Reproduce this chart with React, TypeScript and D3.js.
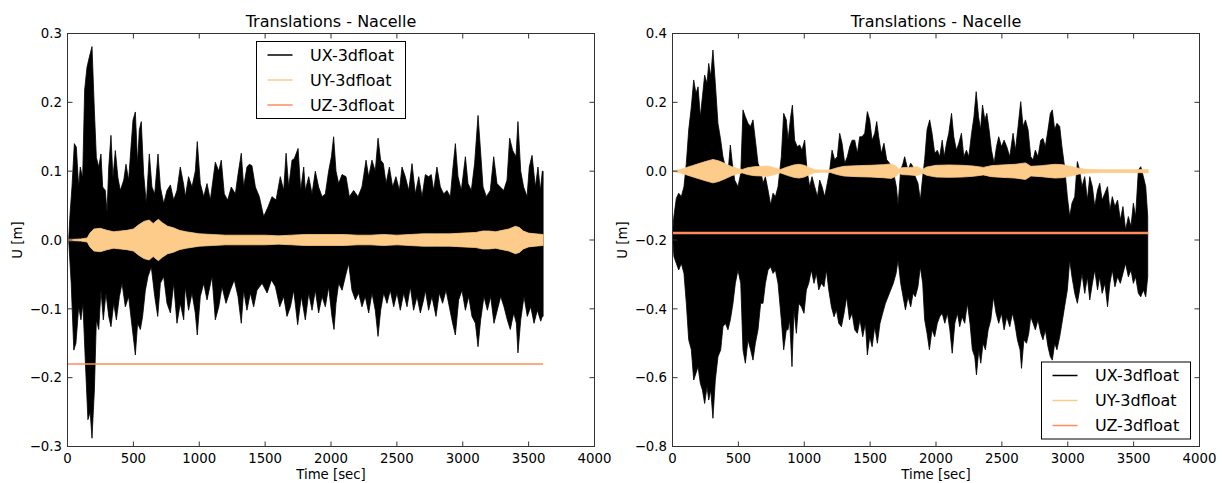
import React from 'react';
import * as d3 from 'd3';

// ---------- shared ----------
const xTicks = [0, 500, 1000, 1500, 2000, 2500, 3000, 3500, 4000];
const leftYTicks = [-0.3, -0.2, -0.1, 0.0, 0.1, 0.2, 0.3];
const rightYTicks = [-0.8, -0.6, -0.4, -0.2, 0.0, 0.2, 0.4];
const seriesNames = ['UX-3dfloat', 'UY-3dfloat', 'UZ-3dfloat'];
const seriesColors = ['#000000', '#fdcc8a', '#fc8d59'];
const chartTitle = 'Translations - Nacelle';
const xLabel = 'Time [sec]';
const yLabel = 'U [m]';

// ---------- left panel (time [s], value [m]) ----------
const leftUxTop: [number, number][] = [
  [0, 0], [9, 0.0], [20, 0.04], [34, 0.077], [52, 0.14], [67, 0.135], [85, 0.077], [97, 0.106], [115, 0.09],
  [130, 0.218], [148, 0.251], [166, 0.266], [186, 0.281], [204, 0.188], [219, 0.12], [237, 0.106], [254, 0.125],
  [267, 0.077], [287, 0.072], [300, 0.04], [313, 0.106], [330, 0.152], [345, 0.09], [363, 0.13], [383, 0.09],
  [401, 0.072], [427, 0.087], [444, 0.11], [464, 0.087], [482, 0.135], [497, 0.174], [515, 0.186], [532, 0.11],
  [545, 0.16], [560, 0.172], [578, 0.096], [598, 0.053], [621, 0.125], [641, 0.077], [662, 0.067], [687, 0.125],
  [705, 0.077], [730, 0.053], [755, 0.072], [781, 0.08], [806, 0.058], [831, 0.072], [856, 0.106], [882, 0.08],
  [894, 0.063], [919, 0.092], [945, 0.077], [970, 0.1], [985, 0.143], [1008, 0.082], [1034, 0.063], [1059, 0.082],
  [1084, 0.058], [1122, 0.113], [1148, 0.1], [1167, 0.116], [1190, 0.067], [1216, 0.058], [1243, 0.077],
  [1274, 0.067], [1294, 0.095], [1319, 0.126], [1337, 0.077], [1362, 0.106], [1380, 0.11], [1400, 0.108],
  [1426, 0.077], [1456, 0.063], [1489, 0.034], [1522, 0.048], [1552, 0.063], [1583, 0.058], [1615, 0.092],
  [1641, 0.072], [1659, 0.126], [1679, 0.077], [1704, 0.116], [1721, 0.118], [1750, 0.133], [1770, 0.072],
  [1793, 0.106], [1805, 0.072], [1831, 0.092], [1856, 0.067], [1881, 0.1], [1906, 0.077], [1932, 0.063],
  [1957, 0.067], [1982, 0.1], [2003, 0.121], [2020, 0.15], [2038, 0.1], [2058, 0.082], [2084, 0.095],
  [2114, 0.092], [2139, 0.063], [2172, 0.072], [2205, 0.063], [2235, 0.077], [2266, 0.116], [2286, 0.092],
  [2311, 0.116], [2336, 0.1], [2357, 0.148], [2377, 0.116], [2397, 0.111], [2418, 0.082], [2443, 0.106],
  [2468, 0.077], [2493, 0.092], [2519, 0.072], [2539, 0.106], [2564, 0.092], [2590, 0.072], [2615, 0.111],
  [2640, 0.067], [2666, 0.092], [2691, 0.063], [2716, 0.095], [2741, 0.092], [2761, 0.095], [2779, 0.072],
  [2804, 0.106], [2830, 0.077], [2855, 0.067], [2880, 0.072], [2906, 0.063], [2923, 0.1], [2944, 0.14],
  [2964, 0.092], [2989, 0.072], [3020, 0.121], [3040, 0.082], [3065, 0.072], [3090, 0.111], [3116, 0.181],
  [3133, 0.135], [3154, 0.077], [3179, 0.063], [3209, 0.072], [3235, 0.121], [3260, 0.082], [3285, 0.077],
  [3311, 0.072], [3336, 0.087], [3356, 0.148], [3379, 0.13], [3404, 0.121], [3419, 0.172], [3440, 0.1],
  [3462, 0.077], [3488, 0.063], [3505, 0.106], [3526, 0.123], [3551, 0.077], [3571, 0.106], [3589, 0.072],
  [3604, 0.1], [3610, 0.1],
];
const leftUxBottom: [number, number][] = [
  [0, 0], [9, 0.0], [28, -0.063], [48, -0.16], [64, -0.15], [85, -0.097], [102, -0.116], [117, -0.092],
  [136, -0.179], [155, -0.261], [172, -0.25], [186, -0.288], [204, -0.218], [219, -0.116], [237, -0.13],
  [254, -0.073], [272, -0.116], [292, -0.077], [313, -0.111], [330, -0.126], [351, -0.092], [371, -0.116],
  [394, -0.082], [414, -0.063], [439, -0.097], [464, -0.082], [484, -0.116], [505, -0.15], [515, -0.167],
  [532, -0.121], [553, -0.13], [570, -0.111], [591, -0.073], [611, -0.053], [636, -0.039], [662, -0.082],
  [685, -0.111], [705, -0.063], [730, -0.053], [755, -0.092], [781, -0.106], [806, -0.063], [831, -0.121],
  [856, -0.092], [882, -0.116], [894, -0.068], [919, -0.102], [945, -0.077], [970, -0.106], [985, -0.138],
  [1008, -0.082], [1034, -0.063], [1059, -0.087], [1097, -0.053], [1122, -0.116], [1148, -0.097],
  [1173, -0.068], [1203, -0.092], [1236, -0.073], [1266, -0.058], [1294, -0.082], [1319, -0.121],
  [1337, -0.073], [1362, -0.102], [1388, -0.077], [1413, -0.097], [1438, -0.073], [1477, -0.063],
  [1515, -0.077], [1548, -0.058], [1578, -0.068], [1611, -0.097], [1641, -0.082], [1666, -0.111],
  [1692, -0.097], [1717, -0.073], [1747, -0.123], [1775, -0.082], [1805, -0.116], [1831, -0.077],
  [1856, -0.102], [1881, -0.073], [1906, -0.106], [1932, -0.082], [1957, -0.097], [1982, -0.068],
  [2007, -0.111], [2023, -0.13], [2038, -0.092], [2058, -0.063], [2084, -0.073], [2109, -0.053],
  [2134, -0.034], [2159, -0.073], [2185, -0.087], [2210, -0.077], [2235, -0.097], [2260, -0.082],
  [2286, -0.106], [2311, -0.077], [2336, -0.102], [2357, -0.14], [2377, -0.102], [2400, -0.077],
  [2425, -0.092], [2450, -0.073], [2476, -0.097], [2501, -0.077], [2526, -0.102], [2552, -0.077],
  [2577, -0.097], [2602, -0.068], [2627, -0.102], [2653, -0.082], [2678, -0.106], [2703, -0.087],
  [2716, -0.073], [2741, -0.102], [2766, -0.082], [2797, -0.111], [2822, -0.077], [2847, -0.092],
  [2873, -0.073], [2898, -0.097], [2923, -0.121], [2944, -0.138], [2969, -0.087], [2994, -0.073],
  [3020, -0.102], [3045, -0.082], [3070, -0.111], [3096, -0.121], [3116, -0.155], [3136, -0.116],
  [3161, -0.082], [3187, -0.102], [3212, -0.082], [3237, -0.121], [3262, -0.102], [3288, -0.082],
  [3313, -0.097], [3338, -0.116], [3361, -0.13], [3387, -0.106], [3407, -0.121], [3419, -0.164],
  [3440, -0.116], [3465, -0.082], [3490, -0.111], [3516, -0.097], [3541, -0.121], [3566, -0.102],
  [3592, -0.118], [3604, -0.111], [3610, -0.111],
];
// UY: half-width of the band around zero
const leftUyAmp: [number, number][] = [
  [0, 0.001], [50, 0.001], [100, 0.0015], [150, 0.003], [170, 0.01], [200, 0.016], [250, 0.017], [300, 0.014],
  [350, 0.012], [400, 0.013], [450, 0.014], [500, 0.016], [540, 0.022], [580, 0.027], [620, 0.029], [650, 0.024],
  [690, 0.03], [720, 0.025], [760, 0.02], [800, 0.018], [850, 0.014], [900, 0.012], [1000, 0.009], [1100, 0.008],
  [1200, 0.007], [1300, 0.007], [1400, 0.007], [1500, 0.007], [1600, 0.006], [1700, 0.007], [1800, 0.008],
  [1900, 0.008], [2000, 0.008], [2100, 0.008], [2200, 0.007], [2300, 0.007], [2400, 0.008], [2500, 0.007],
  [2600, 0.008], [2700, 0.009], [2800, 0.009], [2900, 0.009], [3000, 0.01], [3100, 0.011], [3150, 0.013],
  [3200, 0.013], [3250, 0.012], [3300, 0.014], [3350, 0.016], [3400, 0.02], [3430, 0.018], [3460, 0.013],
  [3500, 0.01], [3550, 0.009], [3610, 0.008],
];
const leftUz: [number, number][] = [[0, -0.18], [900, -0.18], [1800, -0.18], [2700, -0.18], [3610, -0.18]];

// ---------- right panel ----------
const rightUxTop: [number, number][] = [
  [0, -0.18], [11, -0.13], [29, -0.079], [47, -0.064], [67, -0.074], [87, -0.045], [105, 0.023], [123, 0.12],
  [143, 0.187], [161, 0.265], [178, 0.226], [194, 0.245], [211, 0.158], [227, 0.216], [244, 0.279], [262, 0.255],
  [275, 0.313], [290, 0.275], [307, 0.352], [325, 0.255], [345, 0.139], [366, 0.09], [383, 0.042], [401, 0.013],
  [421, -0.006], [439, 0.076], [454, 0.023], [472, -0.026], [497, -0.045], [518, -0.006], [535, 0.178],
  [553, 0.158], [573, 0.139], [593, 0.13], [611, 0.149], [629, 0.09], [649, 0.023], [669, 0.003], [687, -0.035],
  [705, -0.016], [725, -0.055], [745, -0.098], [763, -0.064], [781, -0.074], [801, -0.045], [826, 0.042],
  [844, 0.168], [864, 0.149], [877, 0.09], [897, 0.158], [910, 0.192], [927, 0.09], [947, 0.071], [965, 0.076],
  [983, 0.061], [1003, 0.09], [1021, 0.003], [1041, -0.045], [1059, -0.016], [1079, -0.045], [1100, -0.074],
  [1117, -0.026], [1135, -0.045], [1155, -0.074], [1175, -0.035], [1193, 0.003], [1211, 0.061], [1231, 0.033],
  [1251, 0.042], [1269, 0.11], [1287, 0.081], [1307, 0.023], [1327, 0.042], [1345, 0.071], [1363, 0.09],
  [1383, 0.09], [1403, 0.052], [1421, 0.1], [1439, 0.1], [1459, 0.11], [1479, 0.173], [1497, 0.149], [1515, 0.09],
  [1535, 0.11], [1550, 0.144], [1565, 0.1], [1585, 0.052], [1605, 0.081], [1626, 0.033], [1648, 0.023],
  [1674, 0.003], [1699, -0.045], [1712, -0.098], [1732, 0.003], [1750, 0.023], [1762, 0.042], [1787, 0.003],
  [1808, 0.023], [1826, 0.013], [1843, -0.016], [1863, -0.035], [1881, -0.084], [1899, -0.016], [1914, 0.033],
  [1932, 0.12], [1952, 0.149], [1970, 0.11], [1990, 0.052], [2010, 0.061], [2028, 0.042], [2047, 0.09],
  [2062, 0.042], [2080, 0.081], [2097, 0.11], [2118, 0.168], [2135, 0.1], [2155, 0.061], [2173, 0.081],
  [2193, 0.11], [2211, 0.042], [2231, 0.061], [2249, 0.042], [2270, 0.11], [2288, 0.158], [2305, 0.231],
  [2323, 0.158], [2338, 0.12], [2353, 0.192], [2371, 0.149], [2386, 0.168], [2403, 0.12], [2421, 0.061],
  [2441, 0.023], [2459, 0.071], [2476, 0.1], [2497, 0.071], [2517, 0.09], [2537, 0.071], [2560, 0.042],
  [2585, 0.11], [2603, 0.061], [2623, 0.13], [2643, 0.202], [2661, 0.13], [2679, 0.149], [2699, 0.12],
  [2719, 0.042], [2737, 0.033], [2754, 0.061], [2774, 0.042], [2795, 0.09], [2812, 0.095], [2830, 0.071],
  [2850, 0.12], [2868, 0.168], [2883, 0.178], [2901, 0.12], [2918, 0.139], [2939, 0.13], [2956, 0.071],
  [2976, 0.013], [2997, -0.074], [3015, -0.132], [3032, -0.093], [3053, -0.074], [3073, 0.028], [3090, 0.003],
  [3108, -0.045], [3129, -0.016], [3149, -0.084], [3167, -0.016], [3187, -0.045], [3205, -0.103], [3226, -0.055],
  [3243, -0.035], [3261, -0.084], [3282, -0.064], [3302, -0.045], [3320, -0.113], [3338, -0.074], [3358, -0.103],
  [3378, -0.084], [3399, -0.142], [3419, -0.103], [3439, -0.171], [3460, -0.132], [3480, -0.161], [3498, -0.093],
  [3515, -0.132], [3536, 0.003], [3554, 0.013], [3574, -0.016], [3592, -0.045], [3607, -0.132],
];
const rightUxBottom: [number, number][] = [
  [0, -0.19], [11, -0.248], [29, -0.268], [47, -0.287], [67, -0.268], [87, -0.297], [105, -0.384], [123, -0.49],
  [143, -0.519], [161, -0.607], [178, -0.587], [194, -0.568], [211, -0.616], [227, -0.636], [244, -0.675],
  [262, -0.626], [275, -0.665], [290, -0.636], [307, -0.718], [325, -0.607], [345, -0.539], [366, -0.519],
  [383, -0.452], [401, -0.442], [421, -0.461], [439, -0.432], [459, -0.384], [477, -0.326], [497, -0.287],
  [518, -0.326], [535, -0.519], [553, -0.558], [573, -0.49], [593, -0.519], [611, -0.549], [629, -0.5],
  [649, -0.461], [669, -0.384], [687, -0.384], [705, -0.326], [725, -0.287], [745, -0.278], [763, -0.297],
  [781, -0.287], [801, -0.326], [826, -0.432], [844, -0.519], [864, -0.461], [877, -0.461], [889, -0.432],
  [907, -0.568], [922, -0.403], [940, -0.471], [958, -0.384], [978, -0.394], [998, -0.413], [1016, -0.345],
  [1034, -0.326], [1054, -0.287], [1074, -0.326], [1092, -0.297], [1110, -0.345], [1130, -0.326], [1150, -0.336],
  [1168, -0.287], [1186, -0.345], [1206, -0.394], [1226, -0.423], [1244, -0.403], [1262, -0.442], [1282, -0.452],
  [1302, -0.413], [1322, -0.365], [1343, -0.432], [1363, -0.413], [1383, -0.461], [1403, -0.471], [1423, -0.432],
  [1444, -0.481], [1464, -0.442], [1479, -0.534], [1497, -0.481], [1515, -0.51], [1535, -0.452], [1555, -0.5],
  [1575, -0.442], [1595, -0.413], [1616, -0.384], [1636, -0.365], [1656, -0.345], [1676, -0.326], [1697, -0.297],
  [1712, -0.258], [1732, -0.326], [1750, -0.365], [1768, -0.403], [1788, -0.365], [1808, -0.394], [1826, -0.355],
  [1843, -0.365], [1863, -0.336], [1881, -0.278], [1899, -0.326], [1914, -0.432], [1932, -0.471], [1950, -0.519],
  [1970, -0.461], [1990, -0.481], [2010, -0.442], [2028, -0.423], [2047, -0.413], [2067, -0.442], [2087, -0.413],
  [2105, -0.461], [2123, -0.529], [2143, -0.442], [2163, -0.413], [2180, -0.452], [2198, -0.423], [2218, -0.442],
  [2238, -0.384], [2258, -0.442], [2276, -0.519], [2294, -0.539], [2307, -0.592], [2325, -0.519], [2340, -0.558],
  [2357, -0.5], [2375, -0.519], [2396, -0.461], [2416, -0.432], [2436, -0.365], [2456, -0.413], [2476, -0.442],
  [2497, -0.413], [2517, -0.461], [2537, -0.423], [2560, -0.452], [2580, -0.413], [2598, -0.442], [2618, -0.49],
  [2638, -0.519], [2649, -0.573], [2667, -0.49], [2687, -0.5], [2704, -0.471], [2719, -0.423], [2737, -0.442],
  [2754, -0.461], [2774, -0.432], [2795, -0.471], [2812, -0.49], [2830, -0.461], [2850, -0.51], [2868, -0.539],
  [2883, -0.549], [2901, -0.5], [2918, -0.519], [2939, -0.481], [2956, -0.442], [2976, -0.394], [2997, -0.345],
  [3015, -0.258], [3032, -0.307], [3053, -0.355], [3073, -0.384], [3090, -0.345], [3108, -0.297], [3129, -0.355],
  [3149, -0.307], [3167, -0.374], [3187, -0.326], [3205, -0.287], [3226, -0.345], [3243, -0.307], [3261, -0.355],
  [3282, -0.326], [3302, -0.394], [3320, -0.326], [3338, -0.287], [3358, -0.336], [3378, -0.307], [3399, -0.326],
  [3419, -0.297], [3439, -0.268], [3460, -0.307], [3480, -0.287], [3498, -0.326], [3515, -0.307], [3536, -0.355],
  [3554, -0.365], [3574, -0.345], [3592, -0.365], [3607, -0.307],
];
const rightUyAmp: [number, number][] = [
  [0, 0.001], [50, 0.004], [100, 0.01], [150, 0.016], [200, 0.022], [250, 0.028], [307, 0.034], [350, 0.03],
  [400, 0.022], [450, 0.013], [500, 0.007], [530, 0.005], [570, 0.01], [620, 0.013], [680, 0.014], [725, 0.015],
  [770, 0.01], [820, 0.005], [870, 0.012], [920, 0.018], [960, 0.02], [1000, 0.017], [1040, 0.01], [1080, 0.004],
  [1150, 0.003], [1200, 0.004], [1250, 0.01], [1300, 0.014], [1400, 0.016], [1500, 0.017], [1600, 0.019],
  [1660, 0.021], [1700, 0.014], [1715, 0.005], [1740, 0.01], [1800, 0.011], [1860, 0.013], [1895, 0.005],
  [1930, 0.012], [2000, 0.017], [2100, 0.018], [2200, 0.017], [2280, 0.015], [2360, 0.011], [2420, 0.016],
  [2500, 0.018], [2600, 0.02], [2680, 0.024], [2720, 0.014], [2800, 0.016], [2900, 0.02], [2960, 0.019],
  [3020, 0.014], [3090, 0.008], [3150, 0.005], [3250, 0.004], [3400, 0.004], [3500, 0.004], [3610, 0.005],
];
const rightUz: [number, number][] = [[0, -0.18], [900, -0.18], [1800, -0.18], [2700, -0.18], [3610, -0.18]];

const FONT = 'DejaVu Sans, sans-serif';

type PanelProps = {
  id: string;
  x0: number; x1: number; y0: number; y1: number;
  yDomain: [number, number];
  yTicks: number[];
  uxTop: [number, number][];
  uxBottom: [number, number][];
  uyAmp: [number, number][];
  uz: [number, number][];
  uzWidth: number;
  legendX: number; legendY: number;
  yLabelX: number;
};

function Panel(p: PanelProps) {
  const x = d3.scaleLinear().domain([0, 4000]).range([p.x0, p.x1]);
  const y = d3.scaleLinear().domain(p.yDomain).range([p.y1, p.y0]);
  const fmt = d3.format('.1f');

  const line = d3.line<[number, number]>().x(d => x(d[0])).y(d => y(d[1]));
  const uxPoly = [...p.uxTop, ...p.uxBottom.slice().reverse()];
  const uxPath = line(uxPoly) + 'Z';
  const uyPath = d3.area<[number, number]>()
    .x(d => x(d[0])).y0(d => y(-d[1])).y1(d => y(d[1]))(p.uyAmp) || '';
  const uzPath = line(p.uz) || '';

  const tickLen = 5;
  const frameColor = '#333';
  const cx = (p.x0 + p.x1) / 2;
  const cy = (p.y0 + p.y1) / 2;
  const legW = 149, legH = 77;

  return (
    <g>
      <defs>
        <clipPath id={p.id}>
          <rect x={p.x0} y={p.y0} width={p.x1 - p.x0} height={p.y1 - p.y0} />
        </clipPath>
      </defs>
      <rect x={p.x0} y={p.y0} width={p.x1 - p.x0} height={p.y1 - p.y0} fill="#fff" />
      <g clipPath={`url(#${p.id})`}>
        <path d={uxPath} fill={seriesColors[0]} stroke={seriesColors[0]} strokeWidth={0.8} strokeLinejoin="miter" />
        <path d={uyPath} fill={seriesColors[1]} stroke={seriesColors[1]} strokeWidth={0.8} />
        <path d={uzPath} fill="none" stroke={seriesColors[2]} strokeWidth={p.uzWidth} />
      </g>
      {xTicks.map(t => (
        <g key={'xt' + t}>
          <line x1={x(t)} x2={x(t)} y1={p.y1} y2={p.y1 - tickLen} stroke={frameColor} />
          <line x1={x(t)} x2={x(t)} y1={p.y0} y2={p.y0 + tickLen} stroke={frameColor} />
          <text x={x(t)} y={463} textAnchor="middle" fontFamily={FONT} fontSize={13.3} fill="#000">{t}</text>
        </g>
      ))}
      {p.yTicks.map(t => (
        <g key={'yt' + t}>
          <line x1={p.x0} x2={p.x0 + tickLen} y1={y(t)} y2={y(t)} stroke={frameColor} />
          <line x1={p.x1} x2={p.x1 - tickLen} y1={y(t)} y2={y(t)} stroke={frameColor} />
          <text x={p.x0 - 5.5} y={y(t)} dy="0.36em" textAnchor="end" fontFamily={FONT} fontSize={13.3} fill="#000">{fmt(t)}</text>
        </g>
      ))}
      <rect x={p.x0} y={p.y0} width={p.x1 - p.x0} height={p.y1 - p.y0} fill="none" stroke={frameColor} strokeWidth={1} />
      <text x={cx} y={27} textAnchor="middle" fontFamily={FONT} fontSize={16} fill="#000">{chartTitle}</text>
      <text x={cx} y={479} textAnchor="middle" fontFamily={FONT} fontSize={13.3} fill="#000">{xLabel}</text>
      <text transform={`translate(${p.yLabelX},${cy}) rotate(-90)`} textAnchor="middle" dy="0.36em" fontFamily={FONT} fontSize={13.3} fill="#000">{yLabel}</text>
      <g transform={`translate(${p.legendX},${p.legendY})`}>
        <rect x={0} y={0} width={legW} height={legH} fill="#fff" stroke="#000" strokeWidth={1} />
        {seriesNames.map((n, i) => (
          <g key={n} transform={`translate(0,${13.5 + i * 25})`}>
            <line x1={11} x2={36} y1={0} y2={0} stroke={seriesColors[i]} strokeWidth={1.5} />
            <text x={53.5} y={0} dy="0.36em" fontFamily={FONT} fontSize={16} fill="#000">{n}</text>
          </g>
        ))}
      </g>
    </g>
  );
}

export default function App() {
  return (
    <svg width={1222} height={483} style={{ position: 'absolute', left: 0, top: 0, background: '#fff' }}>
      <rect x={0} y={0} width={1222} height={483} fill="#fff" />
      <Panel id="clipL" x0={67.5} x1={594.5} y0={33.5} y1={446.5} yDomain={[-0.3, 0.3]} yTicks={leftYTicks}
        uxTop={leftUxTop} uxBottom={leftUxBottom} uyAmp={leftUyAmp} uz={leftUz} uzWidth={1.5}
        legendX={256.5} legendY={41.5} yLabelX={17} />
      <Panel id="clipR" x0={672.5} x1={1199.5} y0={33.5} y1={446.5} yDomain={[-0.8, 0.4]} yTicks={rightYTicks}
        uxTop={rightUxTop} uxBottom={rightUxBottom} uyAmp={rightUyAmp} uz={rightUz} uzWidth={2.5}
        legendX={1041.5} legendY={362} yLabelX={622.5} />
    </svg>
  );
}
